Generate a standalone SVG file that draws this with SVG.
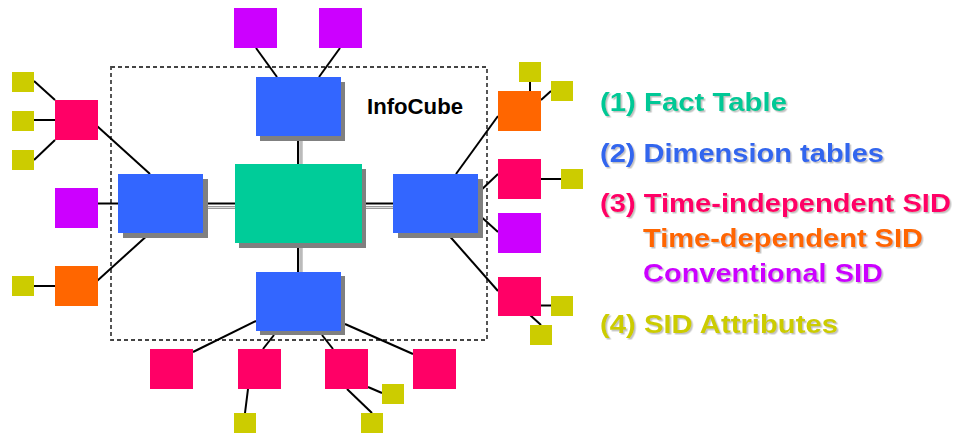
<svg xmlns="http://www.w3.org/2000/svg" width="956" height="434" viewBox="0 0 956 434">
<defs>
<style>
.ln{stroke:#000;stroke-width:2;fill:none}
.sh{fill:#808080}
.dim{fill:#3366FF}
.fact{fill:#00CC99}
.ti{fill:#FF0066}
.td{fill:#FF6600}
.cv{fill:#CC00FF}
.at{fill:#CCCC00}
.lg{font-family:"Liberation Sans",Arial,sans-serif;font-weight:bold;font-size:26.5px}
</style>
<filter id="ts" x="-5%" y="-20%" width="110%" height="150%">
<feDropShadow dx="1.5" dy="1.5" stdDeviation="0.3" flood-color="#999" flood-opacity="0.6"/>
</filter>
</defs>
<rect width="956" height="434" fill="#fff"/>
<rect x="111" y="67" width="376" height="273" fill="none" stroke="#444" stroke-width="1.8" stroke-dasharray="4,3"/>
<g id="connectors">
<line x1="298" y1="141" x2="298" y2="164" stroke="#000" stroke-width="2"/>
<line x1="301" y1="141" x2="301" y2="164" stroke="#999" stroke-width="3"/>
<line x1="301" y1="141" x2="301" y2="164" stroke="#ddd" stroke-width="1"/>
<line x1="298" y1="248" x2="298" y2="272" stroke="#000" stroke-width="2"/>
<line x1="301" y1="248" x2="301" y2="272" stroke="#999" stroke-width="3"/>
<line x1="301" y1="248" x2="301" y2="272" stroke="#ddd" stroke-width="1"/>
<line x1="208" y1="203.5" x2="235" y2="203.5" stroke="#000" stroke-width="2"/>
<line x1="208" y1="207.5" x2="235" y2="207.5" stroke="#999" stroke-width="3"/>
<line x1="208" y1="207.5" x2="235" y2="207.5" stroke="#ddd" stroke-width="1"/>
<line x1="366" y1="203.5" x2="393" y2="203.5" stroke="#000" stroke-width="2"/>
<line x1="366" y1="207.5" x2="393" y2="207.5" stroke="#999" stroke-width="3"/>
<line x1="366" y1="207.5" x2="393" y2="207.5" stroke="#ddd" stroke-width="1"/>
<line class="ln" x1="256" y1="48" x2="277" y2="77"/>
<line class="ln" x1="340" y1="48" x2="319" y2="77"/>
<line class="ln" x1="34" y1="81" x2="55" y2="100"/>
<line class="ln" x1="34" y1="120" x2="55" y2="120"/>
<line class="ln" x1="34" y1="160" x2="55" y2="140"/>
<line class="ln" x1="97" y1="126" x2="150" y2="174"/>
<line class="ln" x1="98" y1="203.5" x2="118" y2="203.5"/>
<line class="ln" x1="34" y1="286" x2="55" y2="286"/>
<line class="ln" x1="97" y1="281" x2="150" y2="233"/>
<line class="ln" x1="498" y1="116" x2="456" y2="174"/>
<line class="ln" x1="530" y1="82" x2="530" y2="91"/>
<line class="ln" x1="541" y1="100" x2="551" y2="91"/>
<line class="ln" x1="478" y1="193" x2="498" y2="174"/>
<line class="ln" x1="541" y1="179" x2="561" y2="179"/>
<line class="ln" x1="477" y1="213" x2="498" y2="232"/>
<line class="ln" x1="446" y1="232" x2="498" y2="291"/>
<line class="ln" x1="541" y1="305.5" x2="551" y2="305.5"/>
<line class="ln" x1="530" y1="315" x2="541" y2="325"/>
<line class="ln" x1="193" y1="352" x2="256" y2="321"/>
<line class="ln" x1="274" y1="335" x2="263" y2="349"/>
<line class="ln" x1="248" y1="389" x2="245" y2="413"/>
<line class="ln" x1="322" y1="335" x2="333" y2="349"/>
<line class="ln" x1="368" y1="387" x2="382" y2="393"/>
<line class="ln" x1="347" y1="389" x2="372" y2="413"/>
<line class="ln" x1="345" y1="324" x2="413" y2="354"/>
</g>
<g id="fact">
<rect class="sh" x="239" y="169" width="127" height="79"/>
<rect class="fact" x="235" y="164" width="127" height="79"/>
</g>
<g id="dim-top">
<rect class="sh" x="260" y="82" width="85" height="59"/>
<rect class="dim" x="256" y="77" width="85" height="59"/>
</g>
<g id="dim-left">
<rect class="sh" x="123" y="179" width="85" height="59"/>
<rect class="dim" x="118" y="174" width="85" height="59"/>
</g>
<g id="dim-right">
<rect class="sh" x="398" y="179" width="85" height="59"/>
<rect class="dim" x="393" y="174" width="85" height="59"/>
</g>
<g id="dim-bottom">
<rect class="sh" x="260" y="276" width="85" height="59"/>
<rect class="dim" x="256" y="272" width="85" height="59"/>
</g>
<g id="infocube-label"><text x="367" y="114" font-family="Liberation Sans,Arial,sans-serif" font-weight="bold" font-size="22.5" textLength="96" lengthAdjust="spacingAndGlyphs" fill="#000">InfoCube</text></g>
<g id="sid-top-1"><rect class="cv" x="234" y="8" width="43" height="40"/></g>
<g id="sid-top-2"><rect class="cv" x="319" y="8" width="43" height="40"/></g>
<g id="sid-left-1"><rect class="ti" x="55" y="100" width="43" height="40"/></g>
<g id="attr-l1"><rect class="at" x="12" y="72" width="22" height="20"/></g>
<g id="attr-l2"><rect class="at" x="12" y="111" width="22" height="20"/></g>
<g id="attr-l3"><rect class="at" x="12" y="150" width="22" height="20"/></g>
<g id="sid-left-2"><rect class="cv" x="55" y="188" width="43" height="40"/></g>
<g id="sid-left-3"><rect class="td" x="55" y="266" width="43" height="40"/></g>
<g id="attr-l4"><rect class="at" x="12" y="276" width="22" height="20"/></g>
<g id="sid-right-1"><rect class="td" x="498" y="91" width="43" height="40"/></g>
<g id="attr-r1"><rect class="at" x="519" y="62" width="22" height="20"/></g>
<g id="attr-r2"><rect class="at" x="551" y="81" width="22" height="20"/></g>
<g id="sid-right-2"><rect class="ti" x="498" y="159" width="43" height="40"/></g>
<g id="attr-r3"><rect class="at" x="561" y="169" width="22" height="20"/></g>
<g id="sid-right-3"><rect class="cv" x="498" y="213" width="43" height="40"/></g>
<g id="sid-right-4"><rect class="ti" x="498" y="277" width="43" height="39"/></g>
<g id="attr-r4"><rect class="at" x="551" y="296" width="22" height="20"/></g>
<g id="attr-r5"><rect class="at" x="530" y="325" width="22" height="20"/></g>
<g id="sid-bottom-1"><rect class="ti" x="150" y="349" width="43" height="40"/></g>
<g id="sid-bottom-2"><rect class="ti" x="238" y="349" width="43" height="40"/></g>
<g id="attr-b1"><rect class="at" x="234" y="413" width="22" height="20"/></g>
<g id="sid-bottom-3"><rect class="ti" x="325" y="349" width="43" height="40"/></g>
<g id="attr-b2"><rect class="at" x="382" y="384" width="22" height="20"/></g>
<g id="attr-b3"><rect class="at" x="361" y="413" width="22" height="20"/></g>
<g id="sid-bottom-4"><rect class="ti" x="413" y="349" width="43" height="40"/></g>
<g id="legend" filter="url(#ts)">
<text class="lg" x="600" y="111" textLength="187" lengthAdjust="spacingAndGlyphs" fill="#00C896">(1) Fact Table</text>
<text class="lg" x="600" y="162" textLength="284" lengthAdjust="spacingAndGlyphs" fill="#3366EE">(2) Dimension tables</text>
<text class="lg" x="600" y="212" textLength="351" lengthAdjust="spacingAndGlyphs" fill="#FF0066">(3) Time-independent SID</text>
<text class="lg" x="643" y="247" textLength="280" lengthAdjust="spacingAndGlyphs" fill="#FF6600">Time-dependent SID</text>
<text class="lg" x="643" y="282" textLength="240" lengthAdjust="spacingAndGlyphs" fill="#CC00FF">Conventional SID</text>
<text class="lg" x="600" y="333" textLength="238" lengthAdjust="spacingAndGlyphs" fill="#CCCC00">(4) SID Attributes</text>
</g>
</svg>
